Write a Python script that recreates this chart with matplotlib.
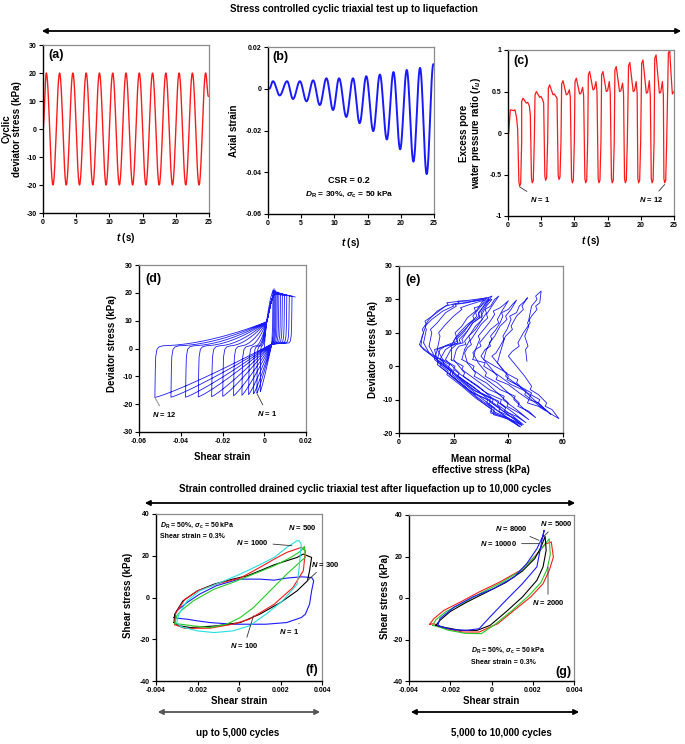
import numpy as np
import matplotlib
matplotlib.use('Agg')
import matplotlib.pyplot as plt
from matplotlib.patches import FancyArrowPatch

plt.rcParams['font.family'] = ['Liberation Sans', 'DejaVu Sans']
plt.rcParams['font.weight'] = 'bold'
plt.rcParams['axes.labelweight'] = 'bold'
plt.rcParams['axes.unicode_minus'] = False
plt.rcParams['mathtext.fontset'] = 'custom'
plt.rcParams['mathtext.it'] = 'Liberation Sans:italic:bold'
plt.rcParams['mathtext.rm'] = 'Liberation Sans:bold'
plt.rcParams['mathtext.bf'] = 'Liberation Sans:bold'
plt.rcParams['mathtext.sf'] = 'Liberation Sans:bold'

# ---------------- data ----------------
# (a) cyclic deviator stress extrema (t, kPa)
a_t = [0.0, 0.5, 1.5, 2.5, 3.5, 4.5, 5.5, 6.5, 7.5, 8.5, 9.5, 10.5, 11.5, 12.5,
       13.5, 14.5, 15.5, 16.5, 17.5, 18.5, 19.5, 20.5, 21.5, 22.5, 23.5, 24.5, 24.9]
a_v = [0, 20, -20, 20, -20, 20, -20, 20, -20, 20, -20, 20, -20, 20,
       -20, 20, -20, 20, -20, 20, -20, 20, -20, 20, -20, 20, 11.7]

# (b) axial strain extrema
b_t = [0.0, 0.2, 0.75, 1.76, 2.87, 3.77, 4.8, 5.8, 6.8, 7.8, 8.8, 9.8, 10.7, 11.8, 12.8,
       13.8, 14.8, 15.85, 16.85, 17.9, 18.9, 19.9, 20.9, 21.9, 22.9, 23.9, 24.9]
b_v = [0.0, 0.0, 0.0036, -0.0032, 0.0036, -0.0049, 0.0036, -0.006, 0.004, -0.0078, 0.005,
       -0.0102, 0.005, -0.0135, 0.005, -0.0165, 0.006, -0.0203, 0.0068, -0.0243, 0.008,
       -0.029, 0.009, -0.0349, 0.010, -0.0409, 0.0117]

# (c) excess pore water pressure ratio: per-cycle features
c_peak_t = [0.35, 2.26, 4.27, 6.28, 8.28, 10.29, 12.3, 14.3, 16.3, 18.35, 20.33, 22.3, 24.35]
c_peak_v = [0.28, 0.42, 0.50, 0.58, 0.63, 0.66, 0.74, 0.74, 0.80, 0.85, 0.88, 0.94, 1.00]
c_dip_v = [0.27, 0.36, 0.43, 0.46, 0.46, 0.47, 0.52, 0.50, 0.50, 0.50, 0.48, 0.48, 0.47]
c_bump_v = [0.18, 0.33, 0.40, 0.44, 0.52, 0.55, 0.62, 0.62, 0.60, 0.62, 0.63, 0.62]
c_fall_v = [0.05, 0.22, 0.36, 0.42, 0.44, 0.45, 0.50, 0.48, 0.48, 0.48, 0.45, 0.45]
c_trough_t = [1.76, 3.66, 5.67, 7.68, 9.69, 11.7, 13.7, 15.7, 17.67, 19.68, 21.7, 23.6]
c_trough_v = [-0.64, -0.60, -0.57, -0.56, -0.60, -0.60, -0.60, -0.60, -0.60, -0.60, -0.60, -0.60]

# (d) hysteresis loop extremes (shear strain, deviator stress kPa)
d_left = [-0.0019, -0.0035, -0.0051, -0.0075, -0.0107, -0.0147, -0.0199, -0.0252,
          -0.0316, -0.0377, -0.0447, -0.0524]
d_bottom = [-15.5, -16.0, -16.3, -16.6, -16.8, -17.0, -17.2, -17.3, -17.4, -17.5, -17.5, -17.6]
d_right = [0.0042, 0.0047, 0.0052, 0.0057, 0.0063, 0.0070, 0.0078, 0.0087, 0.0097,
           0.0108, 0.0120, 0.0133, 0.0148]
d_peak = [21.0, 21.5, 21.0, 20.5, 20.3, 20.0, 19.8, 19.6, 19.4, 19.2, 19.0, 18.8, 18.5]
d_upper_conv = (0.0012, 9.6)
d_lower_conv = (0.0036, 1.6)

# (e) stress path, one row per cycle (p' kPa, q kPa)
e_p = [
    [46.8, 46.3, 47.2, 46.0, 47.5, 47.0, 48.5, 50.5, 50.0, 51.5, 52, 50, 50.5, 48.5, 47.5, 48.0,
     45.5, 43.5, 44.0, 41.5, 40,
     43, 44, 46, 48.5, 48.0, 51, 54, 53.5, 56, 58.5, 55, 51, 51.5, 47, 43, 43.5, 39, 36],
    [37, 38.5, 38.0, 39.5, 41, 40.5, 43, 44, 46, 47, 45, 45.5, 43, 41, 41.5, 39, 37, 35.5, 34,
     37, 40, 39.5, 44, 48, 47.5, 51, 53.5, 55.5, 52, 48, 48.5, 44, 39, 39.5, 35, 31],
    [32, 34, 33.5, 35.5, 37, 38, 37.5, 40, 41.5, 43, 41, 39, 39.5, 37, 35, 33, 33.5, 31.5, 30,
     33, 36, 35.5, 40, 44, 47.5, 47.0, 51, 53.7, 50, 46, 46.5, 41, 36, 31, 31.5, 27],
    [28, 29.5, 29.0, 31, 33, 35, 34.5, 37, 38.5, 40, 38, 36, 36.5, 33.5, 31.5, 29.5, 30, 28, 27,
     29, 32, 31.5, 36, 40, 44, 43.5, 47.5, 50, 46, 42, 42.5, 37, 32, 27, 27.5, 23],
    [24, 26, 25.5, 28, 30, 32, 31.5, 33.5, 35, 36.5, 34, 32, 32.5, 30, 28, 26, 26.5, 25, 24,
     25, 28, 27.5, 32, 36, 40, 39.5, 44, 47.5, 43, 38, 38.5, 33, 28, 23, 23.5, 19],
    [19, 21, 20.5, 23, 25, 28, 27.5, 30, 32, 34, 32, 30, 30.5, 28, 26, 24, 24.5, 22, 21,
     20, 24, 23.5, 29, 34, 39, 38.5, 43, 46.4, 42, 37, 37.5, 32, 26, 20, 20.5, 16],
    [14, 15, 14.5, 17, 20, 23, 22.5, 26, 30, 33, 31, 29, 29.5, 27, 25, 23, 23.5, 21, 19,
     17, 22, 21.5, 27, 32, 37, 36.5, 42, 45.5, 41, 36, 36.5, 30, 24, 18, 18.5, 13],
    [11, 12, 11.5, 14, 17, 21, 20.5, 25, 29, 32, 30, 28, 28.5, 26, 24, 21, 21.5, 19, 17,
     15, 20, 19.5, 25, 30, 35, 34.5, 41, 45, 40, 34, 34.5, 28, 22, 16, 16.5, 11],
    [9, 10, 9.5, 12, 16, 20, 19.5, 24, 28, 31, 29, 27, 27.5, 25, 22, 20, 20.5, 17, 15,
     14, 19, 18.5, 24, 29, 34, 33.5, 40, 44.5, 39, 33, 33.5, 27, 21, 15, 15.5, 9],
    [7.5, 9, 8.5, 11, 14, 18, 17.5, 23, 28, 33, 31, 29, 29.5, 27, 24, 21, 21.5, 18, 14,
     13, 18, 17.5, 23, 28, 34, 33.5, 40, 44, 38, 32, 32.5, 26, 20, 14, 14.5, 8],
    [8.5, 10, 9.5, 13, 17, 22, 21.5, 27, 31, 34, 32, 30, 30.5, 27, 25, 22, 22.5, 19, 13,
     14, 19, 18.5, 25, 30, 35, 34.5, 41, 45, 39, 33, 33.5, 27, 21, 16],
]
e_q = [
    [1.5, 5, 6, 9, 12, 13, 15, 17, 18, 19, 22.5, 21, 20, 18, 14, 13,
     10, 7, 6, 4.5, 3,
     0, -1, -3, -6, -7, -8.5, -11, -12, -13, -15.7, -14, -11, -10, -8, -5, -4, -2, 1],
    [4, 8, 9, 11, 14, 15, 16, 18, 19.5, 20.5, 18, 17, 15, 12, 11, 9, 6, 4, 3,
     0, -3, -4, -6, -9, -10, -11, -13, -14.4, -12, -9, -8, -6, -3, -2, 0, 2],
    [5, 8, 9, 11, 13, 15, 16, 17, 18.5, 19.8, 17, 15, 14, 12, 9, 7, 6, 5, 3,
     0, -3, -4, -5.5, -8, -10, -11, -12, -13.4, -11, -8.5, -7.5, -5.5, -2.5, 0, 1, 2],
    [5, 8, 9, 11, 13, 15.5, 16.5, 17.5, 18.5, 19.6, 17, 14, 13, 11, 9, 7, 6, 5, 4,
     1, -2, -3, -5, -8, -11, -12, -13.5, -15.4, -13, -10, -9, -7, -4, -1, 0, 2],
    [5, 8, 9, 11, 13.5, 16, 17, 18, 20, 21, 18, 15.5, 14.5, 12.5, 10, 7.5, 6.5, 5.5, 4,
     1, -2, -3, -5, -8, -11, -12, -14, -16, -13, -10, -9, -7, -4, -1, 0, 2],
    [6, 9, 10, 12, 14.5, 16.5, 17.5, 18, 19.5, 20, 18, 15, 14, 12, 9.5, 7.5, 6.5, 6, 5,
     2, -2, -3, -6, -9.5, -12.5, -13.5, -15, -16.9, -14, -11, -10, -8, -4.5, -1, 0, 2],
    [5, 9, 10, 12.5, 15, 17, 17.5, 18.5, 19.5, 20, 18, 15.5, 14.5, 13, 10.5, 8, 7, 6.5, 5,
     2, -2, -3, -6, -9.5, -12.5, -13.5, -15.5, -17.5, -14.5, -11.5, -10.5, -8, -4.5, -0.5, 0.5, 3],
    [6, 10, 11, 13, 16, 18, 18.5, 19, 20, 20.5, 18, 16, 15, 13, 10.5, 8, 7, 6, 5,
     2, -1.5, -2.5, -6, -9.5, -12.5, -13.5, -16, -17.8, -14.5, -11, -10, -7.5, -3.5, 0.5, 1.5, 4],
    [7, 11, 12, 14, 16.5, 18, 18.5, 19, 19.5, 20, 17.5, 15, 14, 12.5, 10, 7.5, 6.5, 6, 5,
     2, -1.5, -2.5, -6, -9.5, -12.5, -13.5, -16, -18.2, -15, -11.5, -10.5, -8, -4, 0, 1, 5],
    [6.5, 10, 11, 14, 16.5, 18.5, 19, 19.5, 20, 20.5, 18, 16, 15, 13.5, 11, 8.5, 7.5, 6.5, 5,
     2, -1.5, -2.5, -6, -9.5, -13, -14, -15.5, -18, -14.5, -11, -10, -7.5, -3.5, 0.5, 1.5, 6],
    [9, 12.5, 13.5, 15.5, 18, 19, 19.5, 19.5, 20, 21, 18.5, 16, 15, 13, 10.5, 8, 7, 6.5, 5,
     1.5, -1.5, -2.5, -7, -10.5, -13.5, -14.5, -16, -17.5, -14, -10.5, -9.5, -7, -3, 1],
]

# (f) loops, shear strain in units of 1e-3, shear stress kPa
f_n1_x = [-3.13, -3.0, -2.5, -1.9, -1.1, 0.0, 1.0, 1.7, 2.3, 3.0, 3.5, 3.6, 3.5, 3.4, 3.2, 3.0,
          2.3, 1.3, -0.3, -1.4, -2.0, -2.5, -2.9, -3.13]
f_n1_y = [-9.6, -6.4, -2.4, 1.6, 5.6, 8.8, 8.8, 8.3, 9.3, 9.9, 9.6, 8.0, 3.2, -3.2, -8.0, -9.6,
          -12.0, -12.8, -12.8, -12.0, -11.2, -10.4, -10.0, -9.6]
f_n100_x = [-3.13, -2.9, -2.35, -1.1, 0.06, 1.0, 2.0, 2.8, 3.3, 3.4, 3.5, 3.1, 2.8, 2.3, 1.7,
            1.0, 0.4, -0.3, -1.2, -2.0, -2.7, -3.1, -3.13]
f_n100_y = [-12, -13.5, -14.4, -13.6, -12, -8, -2.4, 3.2, 8, 12.8, 19.2, 20.8, 19.2, 17.6, 15.7,
            12.8, 10.4, 8.8, 6.4, 3.2, -1.6, -8, -12]
f_n300_x = [-3.1, -2.6, -1.4, -0.3, 0.5, 1.7, 2.6, 3.1, 3.2, 3.0, 2.3, 1.7, 1.0, 0.06, -1.1,
            -2.0, -2.6, -3.05, -3.1]
f_n300_y = [-13, -14.8, -14.7, -12.8, -10.4, -3.2, 4.8, 12.8, 22.4, 24, 21.6, 18.4, 14.4, 9.3,
            6.4, 3.2, -0.8, -7.5, -13]
f_n500_x = [-3.1, -2.8, -2.2, -1.4, -0.6, 0.06, 0.7, 1.5, 2.3, 3.0, 3.2, 3.15, 3.0, 2.5, 1.7,
            0.7, -0.3, -1.2, -2.2, -2.8, -3.0, -3.1]
f_n500_y = [-12.5, -12.8, -13.6, -14.4, -12.8, -9.6, -4.8, 3.2, 11.2, 17.6, 19.2, 24.5, 22.4,
            19.2, 15.2, 11.2, 7.2, 4.0, -1.6, -6.4, -8.8, -12.5]
f_n1000_x = [-2.8, -2.0, -1.2, -0.3, 0.5, 1.3, 2.1, 2.8, 2.9, 3.0, 2.9, 2.8, 2.3, 1.7, 0.9,
             0.06, -0.9, -1.9, -2.5, -2.9, -3.0, -2.8]
f_n1000_y = [-14, -16, -16.8, -16, -13.6, -8, -1.6, 6.4, 14.4, 25.6, 27.2, 27.2, 24, 19.2,
             15.2, 11.2, 7.2, 3.2, -1.6, -8, -12, -14]

# (g) loops
g_n2000_x = [-3.0, -2.8, -2.3, -1.5, -0.6, 0.4, 1.4, 1.9, 2.3, 2.6, 2.9, 3.0, 2.8, 2.5, 1.9,
             1.1, 0.3, -0.6, -1.4, -2.2, -2.8, -3.0]
g_n2000_y = [-12.7, -10, -5.9, -1.9, 2.9, 7.7, 13.3, 18.1, 22.2, 26, 27, 19.7, 13.3, 6.9,
             0.5, -5.9, -12.4, -16.4, -16.4, -14.8, -12.4, -12.7]
g_n5000_x = [-2.85, -2.7, -2.2, -1.4, -0.5, 0.5, 1.4, 1.9, 2.3, 2.6, 2.8, 2.85, 2.7, 2.4,
             1.8, 1.0, 0.2, -0.5, -1.3, -2.1, -2.7, -2.85]
g_n5000_y = [-13.2, -10.5, -6.5, -2.5, 2.5, 7.5, 13, 18, 22, 26, 28.5, 21, 14, 7.5, 1.0,
             -6.0, -12.5, -17.2, -17.0, -15.5, -13.5, -13.2]
g_n10000_x = [-2.7, -2.5, -2.0, -1.2, -0.3, 0.7, 1.5, 2.1, 2.4, 2.6, 2.65, 2.5, 2.2, 1.5,
              0.7, -0.07, -0.7, -1.5, -2.2, -2.7]
g_n10000_y = [-13.2, -10.8, -6.5, -2.0, 2.5, 7.5, 13, 19, 24.5, 29.7, 23, 15, 8.5, 0.5,
              -6.7, -13.2, -15.6, -15.6, -14.3, -13.2]
g_n8000_x = [-2.6, -2.5, -1.8, -0.9, 0.1, 1.1, 1.7, 2.2, 2.5, 2.55, 2.45, 2.2, 1.5, 0.7,
             -0.07, -0.6, -1.2, -1.9, -2.4, -2.6]
g_n8000_y = [-13.2, -9.9, -4.3, 0.5, 4.5, 10.1, 16.5, 23.7, 30, 32.6, 28, 15, 6.9, -1.1,
             -9.1, -14.8, -15.6, -15.2, -14, -13.2]

strain_ticks = [-0.004, -0.002, 0, 0.002, 0.004]
strain_ticklabels = ['-0.004', '-0.002', '0', '0.002', '0.004']

# ---------------- helpers ----------------
W, H = 685, 744
RED = '#ff1a1a'
BLUE = '#1a1aff'


def cos_join(tk, vk, n=24):
    xs, ys = [tk[0]], [vk[0]]
    s = np.linspace(0, 1, n)[1:]
    for i in range(len(tk) - 1):
        xs.extend(tk[i] + (tk[i + 1] - tk[i]) * s)
        ys.extend(vk[i] + (vk[i + 1] - vk[i]) * (1 - np.cos(np.pi * s)) / 2)
    return np.array(xs), np.array(ys)


fig = plt.figure(figsize=(6.85, 7.44), dpi=100)


def add_ax(l, t, r, b):
    return fig.add_axes([l / W, 1 - b / H, (r - l) / W, (b - t) / H])


def style(ax, xlim, ylim, xticks, yticks, xtl=None, ytl=None):
    ax.set_xlim(xlim)
    ax.set_ylim(ylim)
    ax.set_xticks(xticks)
    ax.set_yticks(yticks)
    ax.set_xticklabels(xtl if xtl else [f'{v:g}' for v in xticks])
    ax.set_yticklabels(ytl if ytl else [f'{v:g}' for v in yticks])
    for s in ['top', 'right']:
        ax.spines[s].set_color('#8c8c8c')
        ax.spines[s].set_linewidth(0.9)
    for s in ['left', 'bottom']:
        ax.spines[s].set_color('black')
        ax.spines[s].set_linewidth(1.0)
    ax.tick_params(direction='out', length=3, width=0.8, labelsize=5, pad=1.5)


def labels(ax, xl, yl, xy, yx, yy=0.5):
    ax.set_xlabel(xl, fontsize=7)
    ax.set_ylabel(yl, fontsize=7, linespacing=1.05)
    ax.xaxis.set_label_coords(0.5, xy)
    ax.yaxis.set_label_coords(yx, yy)


def panel(ax, txt, x, y):
    ax.text(x, y, txt, transform=ax.transAxes, fontsize=9, ha='left', va='top')


def farrow(x0, x1, y, color='black', lw=1.3):
    fig.add_artist(FancyArrowPatch((x0 / W, 1 - y / H), (x1 / W, 1 - y / H),
                                   transform=fig.transFigure,
                                   arrowstyle='<|-|>,head_length=0.5,head_width=0.25',
                                   mutation_scale=6, lw=lw, color=color))


ann_kw = dict(fontsize=5.5, ha='center', va='center',
              arrowprops=dict(arrowstyle='-', lw=0.6, color='#333333', shrinkA=1, shrinkB=0))

# ---------------- (a) ----------------
ax = add_ax(43, 45, 209, 213)
x, y = cos_join(a_t, a_v)
ax.plot(x, y, color=RED, lw=1.0)
style(ax, (0, 25), (-30, 30), [0, 5, 10, 15, 20, 25], [-30, -20, -10, 0, 10, 20, 30])
labels(ax, '$t$ (s)', 'Cyclic\ndeviator stress (kPa)', -0.105, -0.127)
panel(ax, '(a)', 0.035, 0.975)

# ---------------- (b) ----------------
ax = add_ax(268, 47, 434, 214)
x, y = cos_join(b_t, b_v)
ax.plot(x, y, color=BLUE, lw=1.4)
style(ax, (0, 25), (-0.06, 0.02), [0, 5, 10, 15, 20, 25], [-0.06, -0.04, -0.02, 0, 0.02],
      ytl=['-0.06', '-0.04', '-0.02', '0', '0.02'])
labels(ax, '$t$ (s)', 'Axial strain', -0.13, -0.175)
panel(ax, '(b)', 0.026, 0.975)
ax.text(0.49, 0.2, 'CSR = 0.2', transform=ax.transAxes, fontsize=6.5, ha='center', va='center')
ax.text(0.49, 0.115, r'$D_\mathrm{R}$ = 30%, $\sigma_\mathrm{c}$ = 50 kPa', transform=ax.transAxes,
        fontsize=6, ha='center', va='center')

# ---------------- (c) ----------------
ax = add_ax(508, 50, 674, 216)
cx, cy = [0.0, 0.1], [-0.02, 0.0]
for i in range(len(c_peak_t)):
    tp, vp = c_peak_t[i], c_peak_v[i]
    cx.append(tp); cy.append(vp)
    if i == len(c_peak_t) - 1:
        cx += [tp + 0.2, tp + 0.4, 25.0]
        cy += [0.72, c_dip_v[i], 0.5]
        break
    cx += [tp + 0.25, tp + 0.5, tp + 0.7, tp + 0.95, tp + 1.1]
    cy += [(vp + c_dip_v[i]) / 2, c_dip_v[i], c_dip_v[i] + 0.01, c_bump_v[i], c_fall_v[i]]
    tt, tv = c_trough_t[i], c_trough_v[i]
    cx += [tt - 0.12, tt, tt + 0.15, tt + 0.3, c_peak_t[i + 1] - 0.2]
    cy += [tv + 0.05, tv, tv + 0.03, -0.1, c_peak_v[i + 1] - 0.04]
ax.plot(cx, cy, color=RED, lw=0.9)
style(ax, (0, 25), (-1, 1), [0, 5, 10, 15, 20, 25], [-1, -0.5, 0, 0.5, 1])
labels(ax, '$t$ (s)', 'Excess pore\nwater pressure ratio ($r_u$)', -0.108, -0.15)
panel(ax, '(c)', 0.03, 0.97)
ax.annotate('$N$ = 1', xy=(c_trough_t[0], -0.65), xytext=(4.8, -0.8), **ann_kw)
ax.annotate('$N$ = 12', xy=(c_trough_t[-1], -0.62), xytext=(21.6, -0.8), **ann_kw)

# ---------------- (d) ----------------
ax = add_ax(139, 265, 306, 432)
dx, dq = [0.0], [0.0]
ux, uq = d_upper_conv
lx, lq = d_lower_conv
s = np.linspace(0, 1, 25)[1:]
n_cyc = len(d_left)
for k in range(n_cyc + 1):
    xr, qr = d_right[k], d_peak[k]
    if k == 0:
        pts = [(0.0004, 4), (0.0010, 9), (0.0020, 14), (0.0030, 18), (xr, qr)]
    else:
        xl = d_left[k - 1]
        x0 = min(xl + 0.004, xl * 0.5)
        pts = [(x0 + (ux - x0) * si, 1.0 + (uq - 1.0) * si ** 1.7) for si in s]
        pts += [(0.0022, 13.0), (0.0032, 16.5), (0.0042, 18.8)]
        if xr > 0.0052:
            pts.append((0.005, 19.6 + 0.6 * (k % 3 == 0)))
        pts.append((xr, qr))
    if k < n_cyc:
        pts += [(xr - 0.0001, qr - 6), (xr - 0.0002, 8), (xr - 0.0004, 4.5)]
        if xr - 0.0008 > lx + 0.0003:
            pts += [(xr - 0.0008, 2.7)]
        if xr - 0.0015 > lx + 0.0003:
            pts += [(xr - 0.0015, 2.0)]
        pts.append((lx, lq))
        xl, ql = d_left[k], d_bottom[k]
        pts += [(lx + (xl - lx) * si, lq + (ql - lq) * (1 - (1 - si) ** 1.15)) for si in s]
        x0 = min(xl + 0.004, xl * 0.5)
        span = x0 - xl
        pts += [(xl + span * f, q) for f, q in
                [(0.02, ql + 4), (0.05, -8), (0.1, -3), (0.25, -0.3), (0.5, 0.6), (1.0, 1.0)]]
    for px_, py_ in pts:
        dx.append(px_); dq.append(py_)
ax.plot(dx, dq, color=BLUE, lw=0.6)
style(ax, (-0.06, 0.02), (-30, 30), [-0.06, -0.04, -0.02, 0, 0.02], [-30, -20, -10, 0, 10, 20, 30],
      xtl=['-0.06', '-0.04', '-0.02', '0', '0.02'])
labels(ax, 'Shear strain', 'Deviator stress (kPa)', -0.12, -0.132, 0.53)
panel(ax, '(d)', 0.038, 0.955)
kw = dict(ann_kw)
kw['arrowprops'] = dict(arrowstyle='-', lw=0.8, color='#999999', shrinkA=1, shrinkB=0)
ax.annotate('$N$ = 12', xy=(d_left[-1], d_bottom[-1]), xytext=(-0.0479, -23.6), **kw)
ax.annotate('$N$ = 1', xy=(-0.0035, -16.2), xytext=(0.0014, -23.3), **ann_kw)

# ---------------- (e) ----------------
ax = add_ax(399, 266, 563, 433)
for rp, rq in zip(e_p, e_q):
    ax.plot(rp, rq, color=BLUE, lw=0.6)
for i in range(len(e_p) - 1):
    ax.plot([e_p[i][-1], e_p[i + 1][0]], [e_q[i][-1], e_q[i + 1][0]], color=BLUE, lw=0.6)
style(ax, (0, 60), (-20, 30), [0, 20, 40, 60], [-20, -10, 0, 10, 20, 30])
labels(ax, 'Mean normal\neffective stress (kPa)', 'Deviator stress (kPa)', -0.126, -0.128)
ax.xaxis.label.set_linespacing(1.1)
panel(ax, '(e)', 0.037, 0.955)

# ---------------- (f) ----------------
ax = add_ax(156, 514, 322, 681)
for xs_, ys_, c in [(f_n1_x, f_n1_y, BLUE), (f_n100_x, f_n100_y, 'black'),
                    (f_n300_x, f_n300_y, RED), (f_n500_x, f_n500_y, '#22cc22'),
                    (f_n1000_x, f_n1000_y, '#22e0e0')]:
    ax.plot(np.array(xs_) * 1e-3, ys_, color=c, lw=0.8)
style(ax, (-0.004, 0.004), (-40, 40), strain_ticks, [-40, -20, 0, 20, 40], xtl=strain_ticklabels)
labels(ax, 'Shear strain', 'Shear stress (kPa)', -0.09, -0.139, 0.51)
ax.text(0.94, 0.065, '(f)', transform=ax.transAxes, fontsize=9, ha='center', va='center')
ax.text(0.024, 0.934, r'$D_\mathrm{R}$ = 50%, $\sigma_\mathrm{c}$ = 50 kPa', transform=ax.transAxes,
        fontsize=5, ha='left', va='center')
ax.text(0.024, 0.864, 'Shear strain = 0.3%', transform=ax.transAxes, fontsize=5, ha='left', va='center')
ax.text(0.00303, 33.6, '$N$ = 500', fontsize=5.5, ha='center', va='center')
ax.annotate('$N$ = 1000', xy=(0.00255, 24.8), xytext=(0.00065, 26.4), **ann_kw)
ax.annotate('$N$ = 300', xy=(0.0033, 8), xytext=(0.00414, 16), annotation_clip=False, **ann_kw)
ax.annotate('$N$ = 100', xy=(0.0007, -8.8), xytext=(0.00025, -23.2), **ann_kw)
ax.annotate('$N$ = 1', xy=(0.0029, -12.5), xytext=(0.0024, -16.5), **ann_kw)

# ---------------- (g) ----------------
ax = add_ax(409, 515, 574, 681)
for xs_, ys_, c in [(g_n2000_x, g_n2000_y, RED), (g_n5000_x, g_n5000_y, '#22cc22'),
                    (g_n10000_x, g_n10000_y, 'black'), (g_n8000_x, g_n8000_y, BLUE)]:
    ax.plot(np.array(xs_) * 1e-3, ys_, color=c, lw=0.8)
style(ax, (-0.004, 0.004), (-40, 40), strain_ticks, [-40, -20, 0, 20, 40], xtl=strain_ticklabels)
labels(ax, 'Shear strain', 'Shear stress (kPa)', -0.09, -0.115, 0.51)
ax.text(0.935, 0.056, '(g)', transform=ax.transAxes, fontsize=9, ha='center', va='center')
ax.text(0.374, 0.182, r'$D_\mathrm{R}$ = 50%, $\sigma_\mathrm{c}$ = 50 kPa', transform=ax.transAxes,
        fontsize=5, ha='left', va='center')
ax.text(0.374, 0.11, 'Shear strain = 0.3%', transform=ax.transAxes, fontsize=5, ha='left', va='center')
ax.annotate('$N$ = 8000', xy=(0.0023, 27.8), xytext=(0.00097, 33.4), **ann_kw)
ax.annotate('$N$ = 10000', xy=(0.0023, 26.2), xytext=(0.00036, 26.2), **ann_kw)
ax.annotate('$N$ = 5000', xy=(0.0025, 29.4), xytext=(0.00316, 35.8), **ann_kw)
ax.annotate('$N$ = 2000', xy=(0.00274, 15), xytext=(0.00274, -2.4), **ann_kw)

# ---------------- figure-level text & arrows ----------------
fig.text(354 / W, 1 - 9 / H, 'Stress controlled cyclic triaxial test up to liquefaction',
         ha='center', va='center', fontsize=7)
farrow(39, 684, 31)
fig.text(365 / W, 1 - 489 / H,
         'Strain controlled drained cyclic triaxial test after liquefaction up to 10,000 cycles',
         ha='center', va='center', fontsize=7)
farrow(142, 578, 503)
farrow(155, 323, 712, color='#555555')
farrow(408, 582, 712)
fig.text(238 / W, 1 - 733 / H, 'up to 5,000 cycles', ha='center', va='center', fontsize=7)
fig.text(501 / W, 1 - 733 / H, '5,000 to 10,000 cycles', ha='center', va='center', fontsize=7)

fig.savefig('out.png', dpi=100)
